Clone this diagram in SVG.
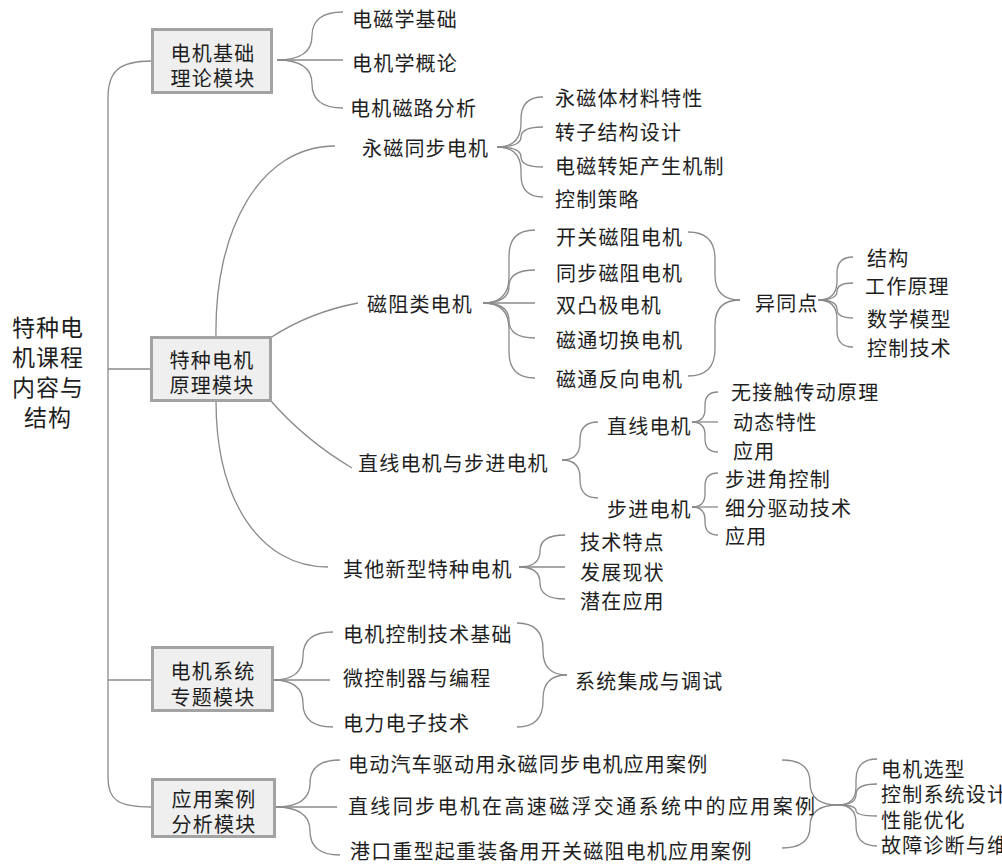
<svg xmlns="http://www.w3.org/2000/svg" width="1002" height="864" viewBox="0 0 1002 864">
<style>
.t{font-family:"Noto Sans CJK SC","Noto Sans",sans-serif;font-size:20px;fill:#1e1e1e;letter-spacing:1.2px;dominant-baseline:central}
.c{text-anchor:middle}
.r{font-size:23px;letter-spacing:1px}
.w{letter-spacing:2.35px}
.l{fill:none;stroke:#8a8a8a;stroke-width:1.3}
.b{fill:#efefef;stroke:#a3a3a3;stroke-width:3}
</style>
<rect width="1002" height="864" fill="#ffffff"/>
<g id="connectors">
<path class="l" d="M152,61 C118,61 108,72 108,98 L108,778 C108,800 118,807 152,807"/>
<path class="l" d="M108,369 L151,369"/>
<path class="l" d="M108,680 L152,680"/>
<path class="l" d="M277,60 Q312,60 312,36 Q312,12 343,12"/>
<path class="l" d="M277,60 L343,60"/>
<path class="l" d="M277,60 Q312,60 312,84 Q312,108 343,108"/>
<path class="l" d="M216,337 C214,230 260,146 335,146"/>
<path class="l" d="M270,338 Q310,312 358,303"/>
<path class="l" d="M270,400 Q305,440 352,468"/>
<path class="l" d="M216,401 C216,500 260,567 328,567"/>
<path class="l" d="M497,147 Q521,147 521,123 L521,119 Q521,97 543,97"/>
<path class="l" d="M497,147 Q521,147 521,137 Q521,127 543,127"/>
<path class="l" d="M497,147 Q521,147 521,157 Q521,167 543,167"/>
<path class="l" d="M497,147 Q521,147 521,171 L521,175 Q521,197 543,197"/>
<path class="l" d="M483,303 Q509,303 509,277 L509,256 Q509,230 535,230"/>
<path class="l" d="M483,303 Q509,303 509,286.5 Q509,270 535,270"/>
<path class="l" d="M483,303 L535,303"/>
<path class="l" d="M483,303 Q509,303 509,320.5 Q509,338 535,338"/>
<path class="l" d="M483,303 Q509,303 509,329 L509,352 Q509,378 535,378"/>
<path class="l" d="M688,232 Q715,232 715,259 L715,275 Q715,300 740,300"/>
<path class="l" d="M688,376 Q715,376 715,349 L715,325 Q715,300 740,300"/>
<path class="l" d="M818,300 Q837,300 837,281 L837,273 Q837,257 853,257"/>
<path class="l" d="M818,300 Q837,300 837,291.5 Q837,283 853,283"/>
<path class="l" d="M818,300 Q837,300 837,309 Q837,318 853,318"/>
<path class="l" d="M818,300 Q837,300 837,319 L837,331 Q837,347 853,347"/>
<path class="l" d="M562,460 Q580,460 580,442 L580,440 Q580,422 598,422"/>
<path class="l" d="M562,460 Q580,460 580,478 L580,480 Q580,498 598,498"/>
<path class="l" d="M692,422 Q705,422 705,409 L705,405 Q705,392 718,392"/>
<path class="l" d="M692,422 L718,422"/>
<path class="l" d="M692,422 Q705,422 705,435 L705,439 Q705,452 718,452"/>
<path class="l" d="M692,507 Q705,507 705,494 L705,486 Q705,473 718,473"/>
<path class="l" d="M692,507 L718,507"/>
<path class="l" d="M692,507 Q705,507 705,520 L705,522 Q705,535 718,535"/>
<path class="l" d="M519,567 Q540,567 540,551 Q540,535 565,535"/>
<path class="l" d="M519,567 L565,567"/>
<path class="l" d="M519,567 Q540,567 540,583 Q540,599 565,599"/>
<path class="l" d="M273,680 Q303,680 303,656 Q303,632 333,632"/>
<path class="l" d="M273,680 L330,680"/>
<path class="l" d="M273,680 Q303,680 303,703.5 Q303,727 333,727"/>
<path class="l" d="M517,623 Q543,623 543,649 L543,651 Q543,675 567,675"/>
<path class="l" d="M517,727 Q543,727 543,701 L543,699 Q543,675 567,675"/>
<path class="l" d="M275,807 Q310,807 310,783.5 Q310,760 340,760"/>
<path class="l" d="M275,807 L337,807"/>
<path class="l" d="M275,807 Q310,807 310,831 Q310,855 340,855"/>
<path class="l" d="M782,760 Q810,760 810,782.5 Q810,805 838,805"/>
<path class="l" d="M782,848 Q810,848 810,826.5 Q810,805 838,805"/>
<path class="l" d="M838,805 Q856,805 856,787 L856,780 Q856,759 877,759"/>
<path class="l" d="M838,805 Q856,805 856,794.5 Q856,784 877,784"/>
<path class="l" d="M838,805 Q856,805 856,810.5 Q856,816 877,816"/>
<path class="l" d="M838,805 Q856,805 856,823 L856,825.5 Q856,846 877,846"/>
</g>
<g id="n-root"><text class="t c r"><tspan x="48" y="326">特种电</tspan><tspan x="48" y="356">机课程</tspan><tspan x="48" y="386">内容与</tspan><tspan x="48" y="416">结构</tspan></text></g>
<g id="n-m1"><rect class="b" x="152.5" y="29.5" width="119" height="63"/><text class="t c"><tspan x="213" y="52">电机基础</tspan><tspan x="213" y="77">理论模块</tspan></text></g>
<g id="n-m2"><rect class="b" x="151.5" y="337.5" width="119" height="63"/><text class="t c"><tspan x="212" y="359">特种电机</tspan><tspan x="212" y="384">原理模块</tspan></text></g>
<g id="n-m3"><rect class="b" x="152.5" y="647.5" width="120" height="63"/><text class="t c"><tspan x="213" y="670">电机系统</tspan><tspan x="213" y="696">专题模块</tspan></text></g>
<g id="n-m4"><rect class="b" x="152.5" y="779.5" width="122" height="57"/><text class="t c"><tspan x="214" y="798">应用案例</tspan><tspan x="214" y="823">分析模块</tspan></text></g>
<g id="n-a1"><text class="t" x="352" y="18">电磁学基础</text></g>
<g id="n-a2"><text class="t" x="352" y="62">电机学概论</text></g>
<g id="n-a3"><text class="t" x="350" y="107">电机磁路分析</text></g>
<g id="n-b1"><text class="t" x="362" y="147">永磁同步电机</text></g>
<g id="n-b11"><text class="t" x="555" y="97">永磁体材料特性</text></g>
<g id="n-b12"><text class="t" x="555" y="131">转子结构设计</text></g>
<g id="n-b13"><text class="t" x="555" y="165">电磁转矩产生机制</text></g>
<g id="n-b14"><text class="t" x="555" y="198">控制策略</text></g>
<g id="n-b2"><text class="t" x="367" y="303">磁阻类电机</text></g>
<g id="n-b21"><text class="t" x="556" y="236">开关磁阻电机</text></g>
<g id="n-b22"><text class="t" x="556" y="272">同步磁阻电机</text></g>
<g id="n-b23"><text class="t" x="556" y="304">双凸极电机</text></g>
<g id="n-b24"><text class="t" x="556" y="339">磁通切换电机</text></g>
<g id="n-b25"><text class="t" x="556" y="378">磁通反向电机</text></g>
<g id="n-b2x"><text class="t" x="755" y="302">异同点</text></g>
<g id="n-b2x1"><text class="t" x="867" y="257">结构</text></g>
<g id="n-b2x2"><text class="t" x="865" y="285">工作原理</text></g>
<g id="n-b2x3"><text class="t" x="867" y="318">数学模型</text></g>
<g id="n-b2x4"><text class="t" x="867" y="347">控制技术</text></g>
<g id="n-b3"><text class="t" x="358" y="462">直线电机与步进电机</text></g>
<g id="n-b31"><text class="t" x="607" y="425">直线电机</text></g>
<g id="n-b32"><text class="t" x="607" y="508">步进电机</text></g>
<g id="n-b311"><text class="t" x="731" y="391">无接触传动原理</text></g>
<g id="n-b312"><text class="t" x="733" y="421">动态特性</text></g>
<g id="n-b313"><text class="t" x="733" y="450">应用</text></g>
<g id="n-b321"><text class="t" x="725" y="478">步进角控制</text></g>
<g id="n-b322"><text class="t" x="725" y="507">细分驱动技术</text></g>
<g id="n-b323"><text class="t" x="725" y="535">应用</text></g>
<g id="n-b4"><text class="t" x="343" y="568">其他新型特种电机</text></g>
<g id="n-b41"><text class="t" x="580" y="541">技术特点</text></g>
<g id="n-b42"><text class="t" x="580" y="571">发展现状</text></g>
<g id="n-b43"><text class="t" x="580" y="600">潜在应用</text></g>
<g id="n-c1"><text class="t" x="343" y="633">电机控制技术基础</text></g>
<g id="n-c2"><text class="t" x="343" y="677">微控制器与编程</text></g>
<g id="n-c3"><text class="t" x="343" y="722">电力电子技术</text></g>
<g id="n-c4"><text class="t" x="575" y="680">系统集成与调试</text></g>
<g id="n-d1"><text class="t" x="348" y="763">电动汽车驱动用永磁同步电机应用案例</text></g>
<g id="n-d2"><text class="t w" x="348" y="805">直线同步电机在高速磁浮交通系统中的应用案例</text></g>
<g id="n-d3"><text class="t" x="350" y="850">港口重型起重装备用开关磁阻电机应用案例</text></g>
<g id="n-d4"><text class="t" x="881" y="768">电机选型</text></g>
<g id="n-d5"><text class="t" x="881" y="793">控制系统设计</text></g>
<g id="n-d6"><text class="t" x="881" y="819">性能优化</text></g>
<g id="n-d7"><text class="t" x="881" y="844">故障诊断与维</text></g>
</svg>
